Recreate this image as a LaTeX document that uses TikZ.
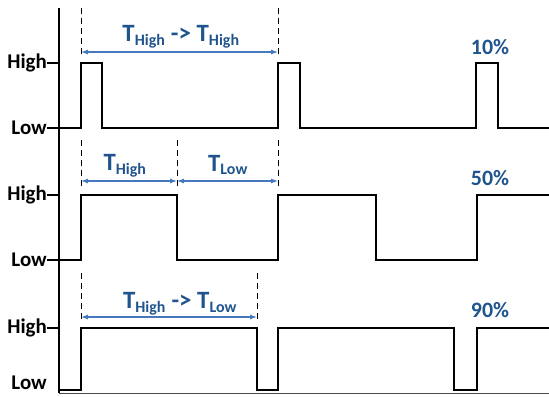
\documentclass[tikz,border=0pt]{standalone}
\usepackage{fontspec}
\setmainfont{Carlito}
\usetikzlibrary{arrows.meta}
\definecolor{tblue}{RGB}{31,84,140}
\definecolor{ablue}{RGB}{70,120,190}
\begin{document}
\begin{tikzpicture}[x=1bp,y=-1bp,
  sig/.style={line width=1.6bp,black,line join=miter},
  axisline/.style={line width=1.4bp,black},
  vdash/.style={black,line width=1bp,dash pattern=on 6bp off 4bp},
  span/.style={ablue,line width=1.1bp,{Latex[length=7bp,width=5bp]}-{Latex[length=7bp,width=5bp]}},
  lvl/.style={font=\bfseries\fontsize{21}{21}\selectfont,inner sep=0pt},
  tlab/.style={tblue,font=\bfseries\fontsize{25}{25}\selectfont,inner sep=0pt},
  pct/.style={tblue,font=\bfseries\fontsize{22}{22}\selectfont,inner sep=0pt}]
\useasboundingbox (0,0) rectangle (549,396);
% axes
\draw[axisline] (59,8) -- (59,393);
\draw[line width=0.8bp,black!70] (59,393) -- (549,393);
% level labels and ticks
\foreach \y/\t/\n in {63/High/h1,128/Low/l1,195/High/h2,260/Low/l2,328/High/h3,383/Low/l3}{
  \node[lvl,anchor=east] (\n) at (47,\y) {\t};
}
\foreach \y in {63,128,195,260,328}{\draw[axisline] (47,\y) -- (59,\y);}
% row 1 (10%)
\draw[sig] (59,128) -- (81,128) -- (81,63) -- (102,63) -- (102,128) -- (278,128) -- (278,63) -- (300,63) -- (300,128) -- (476,128) -- (476,63) -- (498,63) -- (498,128) -- (549,128);
% row 2 (50%)
\draw[sig] (59,260) -- (81,260) -- (81,195) -- (177,195) -- (177,260) -- (278,260) -- (278,195) -- (376,195) -- (376,260) -- (477,260) -- (477,195) -- (549,195);
% row 3 (90%)
\draw[sig] (59,390) -- (81,390) -- (81,328) -- (257,328) -- (257,390) -- (278,390) -- (278,328) -- (454,328) -- (454,390) -- (477,390) -- (477,328) -- (549,328);
% dashed markers row 1
\coordinate (a1t) at (81,8); \coordinate (a1b) at (81,57);
\coordinate (b1t) at (278,8); \coordinate (b1b) at (278,57);
\draw[vdash] (a1t) -- (a1b);
\draw[vdash] (b1t) -- (b1b);
\coordinate (a1) at (81,52); \coordinate (b1) at (278,52);
\draw[span] (a1) -- (b1);
\node[tlab] (lab1) at (181,37) {T\textsubscript{\fontsize{16}{16}\selectfont High} -> T\textsubscript{\fontsize{16}{16}\selectfont High}};
\node[pct] (p1) at (490,47) {10\%};
% row 2
\coordinate (a2t) at (81,140); \coordinate (a2b) at (81,189);
\coordinate (b2t) at (177,140); \coordinate (b2b) at (177,189);
\coordinate (c2t) at (278,140); \coordinate (c2b) at (278,189);
\draw[vdash] (a2t) -- (a2b);
\draw[vdash] (b2t) -- (b2b);
\draw[vdash] (c2t) -- (c2b);
\coordinate (a2) at (81,181); \coordinate (b2) at (177,181); \coordinate (c2) at (278,181);
\draw[span] (a2) -- (b2);
\draw[span] (b2) -- (c2);
\node[tlab] (lab2) at (125,166) {T\textsubscript{\fontsize{16}{16}\selectfont High}};
\node[tlab] (lab3) at (228,165) {T\textsubscript{\fontsize{16}{16}\selectfont Low}};
\node[pct] (p2) at (490,178) {50\%};
% row 3
\coordinate (a3t) at (81,273); \coordinate (a3b) at (81,322);
\coordinate (b3t) at (257,273); \coordinate (b3b) at (257,322);
\draw[vdash] (a3t) -- (a3b);
\draw[vdash] (b3t) -- (b3b);
\coordinate (a3) at (81,317); \coordinate (b3) at (257,317);
\draw[span] (a3) -- (b3);
\node[tlab] (lab4) at (180,304) {T\textsubscript{\fontsize{16}{16}\selectfont High} -> T\textsubscript{\fontsize{16}{16}\selectfont Low}};
\node[pct] (p3) at (490,310) {90\%};
\end{tikzpicture}
\end{document}
